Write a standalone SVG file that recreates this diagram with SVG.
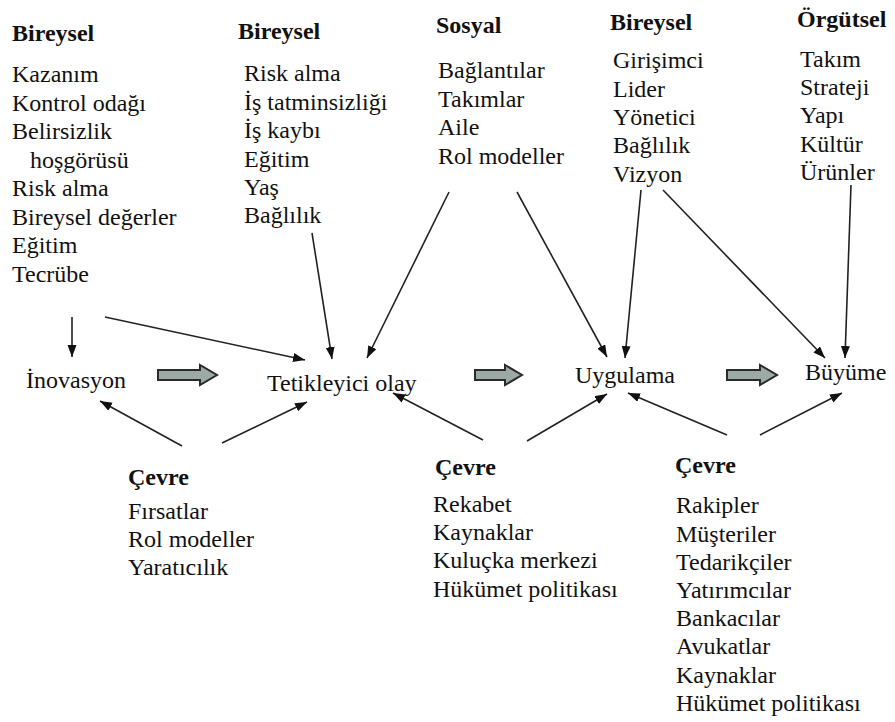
<svg xmlns="http://www.w3.org/2000/svg" width="895" height="722" viewBox="0 0 895 722">
<style>
text{font-size:24px;fill:#111}
.h{font-weight:bold}
.c line{stroke:#222;stroke-width:1.6;marker-end:url(#ah)}
.big{fill:#9ca9a4;stroke:#2a2a2a;stroke-width:2}
</style>
<defs>
<marker id="ah" markerUnits="userSpaceOnUse" markerWidth="13" markerHeight="10" refX="12" refY="4.5" orient="auto">
<path d="M0,0 L12,4.5 L0,9 z" fill="#111"/>
</marker>
</defs>
<rect width="895" height="722" fill="#fff"/>
<g font-family="Liberation Serif, Times New Roman, serif">
<g id="bireysel1">
<text class="h" x="12" y="41">Bireysel</text>
<text x="12" y="82">Kazanım</text>
<text x="12" y="111">Kontrol odağı</text>
<text x="12" y="139">Belirsizlik</text>
<text x="30" y="168">hoşgörüsü</text>
<text x="12" y="196">Risk alma</text>
<text x="12" y="225">Bireysel değerler</text>
<text x="12" y="253">Eğitim</text>
<text x="12" y="282">Tecrübe</text>
</g>
<g id="bireysel2">
<text class="h" x="238" y="39">Bireysel</text>
<text x="244" y="81">Risk alma</text>
<text x="244" y="110">İş tatminsizliği</text>
<text x="244" y="138">İş kaybı</text>
<text x="244" y="167">Eğitim</text>
<text x="244" y="195">Yaş</text>
<text x="244" y="223">Bağlılık</text>
</g>
<g id="sosyal">
<text class="h" x="436" y="33">Sosyal</text>
<text x="438" y="78">Bağlantılar</text>
<text x="438" y="107">Takımlar</text>
<text x="438" y="135">Aile</text>
<text x="438" y="164">Rol modeller</text>
</g>
<g id="bireysel3">
<text class="h" x="610" y="30">Bireysel</text>
<text x="613" y="68">Girişimci</text>
<text x="613" y="97">Lider</text>
<text x="613" y="125">Yönetici</text>
<text x="613" y="153">Bağlılık</text>
<text x="613" y="182">Vizyon</text>
</g>
<g id="orgutsel">
<text class="h" x="797" y="27">Örgütsel</text>
<text x="800" y="67">Takım</text>
<text x="800" y="95">Strateji</text>
<text x="800" y="123">Yapı</text>
<text x="800" y="152">Kültür</text>
<text x="800" y="180">Ürünler</text>
</g>
<g id="inovasyon"><text x="26" y="388">İnovasyon</text></g>
<g id="tetikleyici"><text x="267" y="391">Tetikleyici olay</text></g>
<g id="uygulama"><text x="575" y="383">Uygulama</text></g>
<g id="buyume"><text x="805" y="380">Büyüme</text></g>
<g id="cevre1">
<text class="h" x="128" y="485">Çevre</text>
<text x="128" y="519">Fırsatlar</text>
<text x="128" y="547">Rol modeller</text>
<text x="128" y="575">Yaratıcılık</text>
</g>
<g id="cevre2">
<text class="h" x="435" y="475">Çevre</text>
<text x="433" y="512">Rekabet</text>
<text x="433" y="540">Kaynaklar</text>
<text x="433" y="568">Kuluçka merkezi</text>
<text x="433" y="597">Hükümet politikası</text>
</g>
<g id="cevre3">
<text class="h" x="675" y="473">Çevre</text>
<text x="676" y="513">Rakipler</text>
<text x="676" y="542">Müşteriler</text>
<text x="676" y="570">Tedarikçiler</text>
<text x="676" y="598">Yatırımcılar</text>
<text x="676" y="626">Bankacılar</text>
<text x="676" y="654">Avukatlar</text>
<text x="676" y="683">Kaynaklar</text>
<text x="676" y="711">Hükümet politikası</text>
</g>
</g>
<g id="connectors" class="c">
<line x1="72" y1="317" x2="72" y2="357"/>
<line x1="105" y1="317" x2="305" y2="360"/>
<line x1="312" y1="233" x2="332" y2="359"/>
<line x1="449" y1="192" x2="367" y2="358"/>
<line x1="517" y1="192" x2="607" y2="357"/>
<line x1="641" y1="190" x2="625" y2="358"/>
<line x1="663" y1="190" x2="825" y2="358"/>
<line x1="851" y1="185" x2="845" y2="358"/>
<line x1="182" y1="446" x2="100" y2="401"/>
<line x1="222" y1="443" x2="307" y2="402"/>
<line x1="483" y1="440" x2="393" y2="393"/>
<line x1="527" y1="441" x2="607" y2="394"/>
<line x1="727" y1="435" x2="628" y2="393"/>
<line x1="760" y1="435" x2="842" y2="393"/>
<path class="big" d="M158,370 L200,370 L200,365 L217,375 L200,385 L200,380 L158,380 Z"/>
<path class="big" d="M475,370 L505,370 L505,365 L522,375 L505,385 L505,380 L475,380 Z"/>
<path class="big" d="M727,370 L760,370 L760,365 L777,375 L760,385 L760,380 L727,380 Z"/>
</g>
</svg>
